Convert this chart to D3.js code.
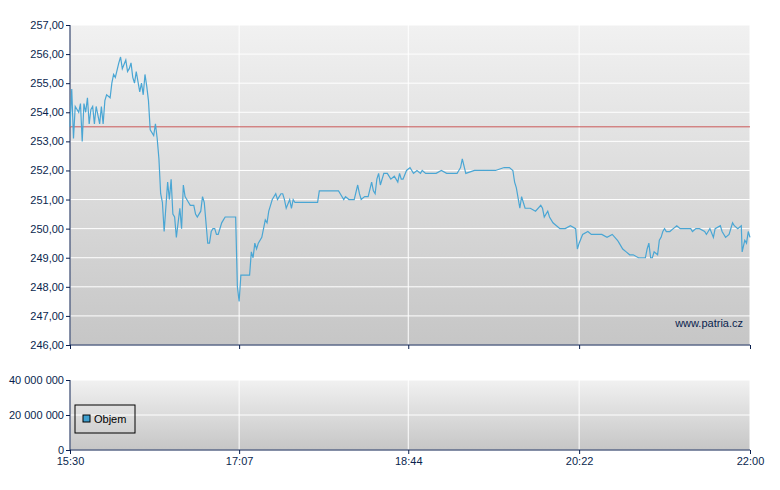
<!DOCTYPE html>
<html><head><meta charset="utf-8">
<script src="https://cdn.jsdelivr.net/npm/d3@7"></script>
<style>body{margin:0;background:#fff}text{font-family:"Liberation Sans",Arial,sans-serif;font-size:11px;fill:#0a1f4e}</style>
</head><body>
<svg id="c" width="780" height="490"></svg>
<script>
// minuty od 15:30 a cena
const minutes = [0,1,2,3,5,6,7,8,9,10,11,12,13,14,15,17,18,19,20,21,23,24,25,26,28,29,30,32,33,34,35,36,37,38,40,41,42,43,44,45,46,48,49,50,51,52,53,54,56,57,58,59,60,61,63,64,65,66,67,68,69,71,72,73,74,75,76,77,79,80,81,82,83,84,85,87,88,89,95,96,97,98,103,104,105,106,107,108,110,111,112,113,114,115,116,118,119,120,121,122,123,124,126,127,128,129,142,143,154,155,157,158,160,163,165,166,167,169,171,173,174,175,176,177,178,180,182,184,186,188,189,190,191,193,195,197,199,201,202,204,210,213,216,222,223,224,225,227,232,238,244,249,252,254,255,256,258,259,260,261,264,267,270,271,272,274,275,277,279,281,284,287,290,291,292,294,297,299,305,308,311,314,315,317,319,321,323,326,330,331,332,333,334,335,337,338,339,340,341,342,344,346,348,350,356,357,359,361,364,365,367,369,370,373,374,376,378,380,381,383,385,385.5,387,388,389,390];
const prices = [253.5,254.8,253.1,254.2,254.0,254.3,253.0,254.3,254.0,254.5,253.6,254.1,254.2,253.6,254.2,253.6,254.2,253.6,254.4,254.6,254.5,255.0,255.3,255.2,255.7,255.9,255.5,255.8,255.4,255.5,255.7,255.2,255.0,255.4,254.7,255.0,254.6,255.3,254.9,254.4,253.4,253.2,253.6,253.1,252.4,251.2,250.9,249.9,251.6,251.0,251.7,250.5,250.4,249.7,250.7,250.0,251.5,251.1,251.0,250.9,250.8,250.8,250.5,250.4,250.5,250.6,251.1,250.9,249.5,249.5,249.9,250.0,250.0,249.8,249.8,250.2,250.3,250.4,250.4,248.0,247.5,248.4,248.4,249.2,249.0,249.5,249.3,249.5,249.7,250.0,250.3,250.2,250.6,250.8,251.0,251.2,251.0,251.1,251.2,251.2,251.0,250.7,251.0,250.7,251.0,250.9,250.9,251.3,251.3,251.2,251.0,251.1,251.0,251.0,251.5,251.2,251.0,251.1,251.1,251.6,251.3,251.2,251.7,251.9,251.5,251.9,251.9,251.7,251.8,251.6,251.9,251.7,251.7,252.0,252.1,251.9,252.0,251.9,252.0,251.9,251.9,252.0,251.9,251.9,252.0,252.1,252.4,251.9,252.0,252.0,252.0,252.1,252.1,252.0,251.6,251.4,250.7,251.1,250.9,250.7,250.7,250.6,250.8,250.7,250.4,250.6,250.4,250.2,250.1,250.0,250.0,250.1,250.0,249.3,249.5,249.8,249.9,249.8,249.8,249.7,249.8,249.6,249.5,249.3,249.2,249.1,249.1,249.0,249.0,249.3,249.5,249.0,249.0,249.2,249.1,249.6,249.7,249.9,250.0,249.9,249.9,250.0,250.1,250.0,250.0,249.9,250.0,250.0,249.9,249.8,250.0,249.7,250.0,250.1,249.9,249.7,249.8,250.2,250.1,250.0,250.1,249.2,249.6,249.5,249.9,249.7];
const refPrice = 253.5;
const priceTicks = [246,247,248,249,250,251,252,253,254,255,256,257];
const volTicks = [0,20000000,40000000];
const timeTicks = [0,97,194,292,390];
const timeLabels = ["15:30","17:07","18:44","20:22","22:00"];

const svg = d3.select("#c");
const L = 70, R = 750;
const x = d3.scaleLinear().domain([0,390]).range([L,R]);
const y = d3.scaleLinear().domain([246,257]).range([345,25]);
const yv = d3.scaleLinear().domain([0,40000000]).range([450,380]);

const defs = svg.append("defs");
const g = defs.append("linearGradient").attr("id","bg").attr("x1",0).attr("x2",0).attr("y1",0).attr("y2",1);
g.append("stop").attr("offset","0%").attr("stop-color","#f1f1f1");
g.append("stop").attr("offset","100%").attr("stop-color","#c6c6c6");

function panel(sc, ticks, fmt) {
  const [y1, y0] = sc.range();
  svg.append("rect").attr("x",L).attr("y",y0).attr("width",R-L).attr("height",y1-y0).attr("fill","url(#bg)");
  svg.append("g").selectAll("line").data(ticks).join("line")
    .attr("x1",L).attr("x2",R).attr("y1",d=>sc(d)).attr("y2",d=>sc(d)).attr("stroke","#fff");
  svg.append("g").selectAll("line").data(timeTicks).join("line")
    .attr("x1",d=>x(d)).attr("x2",d=>x(d)).attr("y1",y0).attr("y2",y1).attr("stroke","#fff");
  const ax = svg.append("g").attr("transform",`translate(${L},0)`)
    .call(d3.axisLeft(sc).tickValues(ticks).tickFormat(fmt).tickSize(4).tickPadding(2));
  ax.select(".domain").attr("stroke","#0a1f4e").attr("d",`M0,${y0}V${y1}`);
  ax.selectAll(".tick line").attr("stroke","#0a1f4e");
  ax.selectAll("text").style("font-size","11px").attr("fill","#0a1f4e");
  const bx = svg.append("g").attr("transform",`translate(0,${y1})`)
    .call(d3.axisBottom(x).tickValues(timeTicks).tickFormat("").tickSize(4));
  bx.select(".domain").attr("stroke","#0a1f4e").attr("d",`M${L},0H${R}`);
  bx.selectAll(".tick line").attr("stroke","#0a1f4e");
  return bx;
}

panel(y, priceTicks, d => d3.format(".2f")(d).replace(".", ","));
const bx = panel(yv, volTicks, d => d3.format(",")(d).replace(/,/g, " "));
bx.selectAll(".tick text").data(timeLabels).text(d=>d).attr("y",7).style("font-size","11px").attr("fill","#0a1f4e");

svg.append("line").attr("x1",L).attr("x2",R).attr("y1",y(refPrice)).attr("y2",y(refPrice))
  .attr("stroke","#c84040").attr("stroke-width",1).attr("opacity",0.85);

const pts = minutes.map((m,i)=>[m, prices[i]]);
svg.append("path").datum(pts).attr("fill","none").attr("stroke","#4aa6d4").attr("stroke-width",1.2)
  .attr("d", d3.line().x(d=>x(d[0])).y(d=>y(d[1])));

svg.append("text").attr("x",743).attr("y",327).attr("text-anchor","end").text("www.patria.cz");

const lg = svg.append("g").attr("transform","translate(75,405)");
lg.append("rect").attr("width",60).attr("height",28).attr("fill","none").attr("stroke","#000");
lg.append("rect").attr("x",8).attr("y",10).attr("width",7).attr("height",7).attr("fill","#3fa0d0").attr("stroke","#000");
lg.append("text").attr("x",19).attr("y",18).attr("fill","#000").style("fill","#000").text("Objem");
</script>
</body></html>
